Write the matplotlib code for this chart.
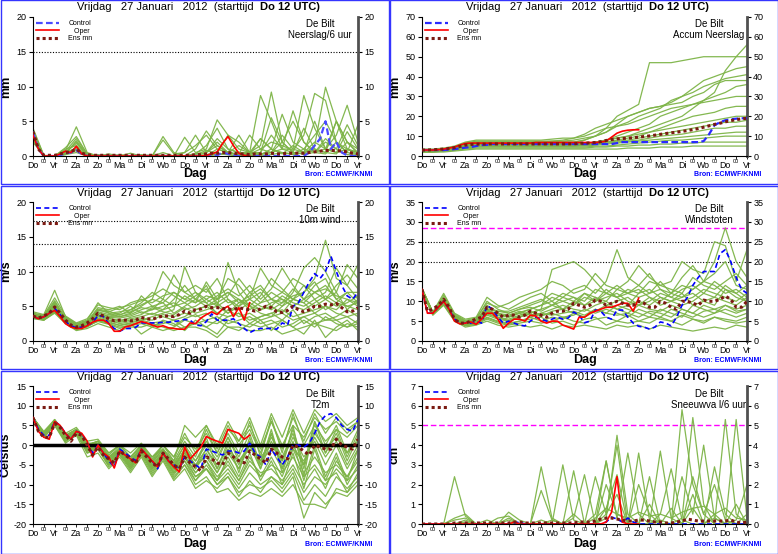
import numpy as np
import matplotlib
matplotlib.use('Agg')
import matplotlib.pyplot as plt
from matplotlib.lines import Line2D
from matplotlib.patches import Rectangle

plt.rcParams['font.family'] = ['Liberation Sans', 'DejaVu Sans']

dagen = ['Do', 'Vr', 'Za', 'Zo', 'Ma', 'Di', 'Wo', 'Do', 'Vr', 'Za', 'Zo', 'Ma', 'Di', 'Wo', 'Do', 'Vr']
titel = 'Vrijdag   27 Januari   2012  (starttijd  '
titel_vet = 'Do 12 UTC)'
bron = 'Bron: ECMWF/KNMI'

# ---------------- neerslag per 6 uur (mm) ----------------
# leden: elke 12 uur (31 punten), control/gem: elke 6 uur (61), oper tot dag 10 (41)
neerslag_leden = [
    [4.0, 0.1, 0, 0.8, 4.2, 0.5, 0, 0.1, 0, 0, 0, 0, 0, 0, 0, 0.3, 0.5, 2.5, 1.0, 0.5, 0.3, 1.0, 2.0, 1.5, 0.8, 3.0, 9.0, 8.0, 2.0, 1.0, 0.5],
    [2.0, 0, 0, 1.2, 2.8, 0.3, 0, 0, 0.2, 0, 0, 0, 2.8, 0.5, 0, 1.0, 3.6, 1.5, 0.5, 0.2, 0.5, 8.7, 5.0, 1.0, 0.5, 0.3, 1.5, 9.9, 5.0, 2.0, 1.0],
    [3.0, 0, 0, 0.5, 2.0, 0.2, 0, 0, 0, 0.4, 0, 0, 0.5, 0, 2.7, 0.5, 1.0, 5.2, 3.0, 1.0, 0.5, 2.5, 1.0, 6.0, 2.0, 1.0, 0.5, 2.0, 1.0, 4.5, 1.5],
    [2.5, 0, 0, 1.0, 1.5, 0.2, 0.2, 0, 0, 0, 0, 0, 2.3, 0.3, 0.5, 3.0, 0.5, 1.5, 0.5, 3.0, 0.5, 1.5, 9.2, 2.0, 0.5, 4.0, 1.0, 0.5, 5.0, 2.0, 0.3],
    [3.5, 0, 0, 0.6, 1.0, 0, 0, 0.3, 0, 0, 0, 0, 0, 0, 0.5, 1.5, 3.0, 1.0, 0.5, 0.3, 3.0, 1.0, 0.5, 2.0, 5.0, 2.0, 0.5, 0.3, 2.0, 0.5, 4.5],
    [3.0, 0, 0, 0.3, 2.2, 0.1, 0, 0, 0, 0, 0.2, 0, 0, 0, 0, 0.3, 1.5, 4.0, 1.0, 0.5, 0.5, 0.5, 3.0, 1.0, 1.0, 8.7, 4.0, 1.0, 0.5, 3.5, 1.0],
    [2.8, 0, 0, 0.2, 0.8, 0, 0, 0, 0, 0, 0, 0, 0, 0, 0, 0, 0.5, 2.0, 0.5, 0.2, 0.2, 2.5, 1.0, 0.5, 0.3, 1.0, 3.0, 5.0, 2.0, 0.5, 0.2],
    [3.2, 0, 0, 0.4, 1.2, 0.1, 0, 0, 0, 0, 0, 0, 0, 0, 0, 0, 0.2, 0.5, 3.0, 2.0, 0.5, 0.2, 1.0, 0.3, 1.5, 0.5, 2.0, 1.0, 5.0, 1.0, 0.5],
    [2.5, 0, 0, 0.5, 1.8, 0.2, 0, 0, 0, 0, 0, 0, 0, 0, 0, 0, 0, 1.0, 0.5, 0.2, 0.2, 0.5, 5.5, 2.0, 0.5, 0.3, 0.5, 2.5, 1.0, 0.2, 0.1],
    [3.8, 0, 0, 0.2, 0.5, 0, 0, 0, 0, 0, 0, 0, 0, 0, 0, 0.2, 0.8, 0.3, 0.2, 0, 0, 0.3, 0.5, 3.0, 1.0, 0.5, 1.0, 0.5, 0.3, 2.0, 0.5],
    [2.2, 0, 0, 0.3, 1.0, 0.1, 0, 0, 0, 0, 0, 0, 0, 0, 0, 0, 0, 0.3, 0.2, 0, 0, 0, 0.2, 0.5, 0.2, 0.5, 5.0, 1.0, 0.5, 1.0, 0.2],
    [3.3, 0, 0, 0.7, 2.5, 0.3, 0, 0, 0, 0, 0, 0.2, 0.1, 0, 0, 0, 0, 0.2, 0.5, 1.5, 0.5, 0.2, 0.5, 1.0, 6.5, 2.0, 0.5, 1.0, 3.0, 7.3, 2.0],
]
neerslag_ctrl = [3.5, 1.0, 0, 0, 0, 0.1, 0.4, 0.5, 0.8, 0.3, 0] + [0] * 23 + [0.1, 0.5, 0.3, 0.1] + [0] * 13 + \
    [0.5, 1.5, 2.5, 5.0, 1.0, 2.0, 0.5, 0.1, 0, 0]
neerslag_oper = [3.0, 1.0, 0, 0, 0, 0.3, 0.7, 0.5, 1.4, 0.3, 0] + [0] * 21 + [0.1, 0.3, 0.6, 1.8, 2.8, 1.5, 0.4, 0.1, 0]
neerslag_gem = [3.5, 1.0, 0.1, 0.1, 0.1, 0.3, 0.5, 0.6, 1.0, 0.4, 0.2] + [0.1] * 19 + \
    [0.2, 0.2, 0.3, 0.4, 0.4, 0.5, 0.5, 0.4, 0.3, 0.3, 0.2, 0.3, 0.3, 0.3, 0.4, 0.3, 0.3, 0.4, 0.4, 0.4, 0.4,
     0.5, 0.6, 0.7, 0.8, 0.8, 0.8, 0.7, 0.6, 0.4, 0.3]

# ---------------- geaccumuleerde neerslag (mm) ----------------
accum_leden = [
    [3, 3, 3.5, 4, 6, 7, 7, 7, 7, 7, 7, 7, 7, 7, 7, 8, 10, 14, 20, 23, 26, 47, 47, 47, 48, 49, 50, 50, 50, 50, 50],
    [2.5, 3, 3, 3.5, 5, 6, 6, 6, 6, 6, 6, 6, 6, 6, 6, 6, 7, 8, 9, 10, 12, 14, 16, 18, 20, 24, 28, 32, 43, 50, 56],
    [3, 3, 3.5, 4, 5.5, 6.5, 6.5, 6.5, 6.5, 6.5, 6.5, 6.5, 7, 7, 7, 8, 10, 12, 15, 17, 20, 22, 24, 28, 30, 34, 38, 40, 42, 44, 45],
    [3, 3, 3.5, 4.5, 6.5, 7.5, 7.5, 7.5, 7.5, 7.5, 7.5, 7.5, 7.5, 7.5, 8, 9, 10, 12, 16, 20, 22, 24, 25, 26, 27, 30, 32, 36, 38, 38, 38],
    [2.5, 2.5, 3, 3.5, 5, 6, 6, 6, 6, 6, 6, 6, 6, 6, 6, 6, 7, 8, 10, 12, 14, 16, 20, 22, 24, 26, 28, 30, 32, 35, 36],
    [3.5, 3.5, 4, 5, 7, 8, 8, 8, 8, 8, 8, 8, 8.5, 9, 9, 10, 12, 14, 15, 16, 18, 20, 22, 24, 25, 26, 27, 28, 29, 30, 30],
    [3, 3, 3.5, 4, 5, 6, 6, 6, 6, 6, 6, 6, 6, 6, 6, 6.5, 7, 8, 9, 10, 11, 12, 14, 16, 18, 20, 21, 22, 24, 25, 25],
    [2, 2, 2.5, 3, 4, 5, 5, 5, 5, 5, 5, 5, 5, 5, 5, 5.5, 6, 7, 8, 9, 10, 12, 13, 14, 15, 16, 17, 18, 19, 20, 20],
    [3, 3, 3.5, 4, 5.5, 6, 6, 6, 6, 6, 6, 6, 6, 6, 6, 6, 6.5, 7, 7.5, 8, 9, 10, 11, 12, 13, 14, 15, 16, 17, 17, 18],
    [3, 3, 3.5, 4, 5, 5.5, 5.5, 5.5, 5.5, 5.5, 5.5, 5.5, 5.5, 5.5, 5.5, 5.5, 6, 6.5, 7, 7.5, 8, 9, 10, 10.5, 11, 12, 13, 14, 14, 15, 15],
    [2.5, 2.5, 3, 3.5, 4.5, 5, 5, 5, 5, 5, 5, 5, 5, 5, 5, 5, 5.5, 6, 6.5, 7, 7.5, 8, 8.5, 9, 9.5, 10, 10.5, 11, 11.5, 12, 12],
    [2, 2, 2.5, 3, 4, 4.5, 4.5, 4.5, 4.5, 4.5, 4.5, 4.5, 4.5, 4.5, 4.5, 4.5, 5, 5, 5.5, 6, 6.5, 7, 7.5, 8, 8, 8.5, 9, 9.5, 10, 10, 10],
    [2.5, 2.5, 3, 3, 3.5, 4, 4, 4, 4, 4, 4, 4, 4, 4, 4, 4, 4.5, 4.5, 5, 5, 5.5, 5.5, 6, 6, 6.5, 6.5, 7, 7, 7, 7, 7],
    [2, 2, 2, 2.5, 3, 3.5, 3.5, 3.5, 3.5, 3.5, 3.5, 3.5, 3.5, 3.5, 3.5, 3.5, 3.5, 3.5, 3.5, 4, 4, 4, 4.5, 4.5, 4.5, 5, 5, 5, 5, 5, 5],
    [3, 3, 3.5, 4, 6, 7, 7, 7, 7, 7, 7, 7, 7.5, 8, 9, 11, 14, 16, 18, 20, 22, 24, 25, 27, 30, 32, 35, 37, 39, 40, 41],
]
accum_ctrl = [3, 3, 3, 3, 3, 3.2, 3.5, 3.8, 4.2, 4.5, 5, 5.5, 5.6] + [6] * 23 + [6.5] + [7] * 15 + \
    [7.5, 11, 15.5, 17, 18, 18.5, 18.8, 19, 19]
accum_oper = [3, 3, 3, 3.2, 3.5, 4, 4.5, 5.5, 6.3, 6.5] + [6.5] * 11 + [6.8] * 12 + [7.0, 7.5, 9.5, 11.5, 12.5, 13, 13.2, 13.2]
accum_gem = [3, 3, 3.2, 3.3, 3.5, 3.8, 4.2, 4.8, 5.5, 5.8, 6, 6, 6] + [6.1] * 16 + \
    [6.4, 6.5, 6.6, 6.8, 7.2, 7.8, 8.3, 8.6, 8.8, 9.0, 9.2, 9.5, 9.8, 10.1, 10.5, 10.9, 11.3, 11.7, 12.0,
     12.4, 12.8, 13.3, 13.8, 14.5, 15.2, 15.9, 16.5, 17.2, 17.8, 18.3, 18.7, 19]

# ---------------- 10 m wind (m/s) ----------------
wind_leden = [
    [3.8, 3.5, 5.0, 3.0, 2.0, 2.5, 4.0, 3.5, 3.5, 4.0, 5.0, 6.0, 10.0, 8.0, 7.0, 6.0, 5.5, 4.0, 5.0, 6.0, 4.5, 5.5, 7.0, 6.0, 5.0, 6.0, 8.0, 9.0, 6.0, 5.0, 4.5],
    [3.5, 3.0, 4.5, 2.8, 1.8, 2.2, 3.5, 3.0, 2.5, 2.8, 3.0, 3.5, 4.0, 4.5, 10.7, 7.0, 6.0, 5.0, 11.3, 7.0, 5.0, 4.0, 3.5, 5.0, 6.0, 5.5, 4.0, 5.0, 4.5, 6.0, 5.0],
    [4.2, 3.8, 7.3, 3.5, 2.5, 3.0, 5.5, 4.0, 3.5, 3.8, 4.5, 5.0, 5.5, 4.0, 5.0, 6.0, 8.0, 5.0, 4.0, 5.0, 6.0, 7.0, 5.0, 4.0, 6.0, 7.0, 9.0, 14.5, 9.0, 8.0, 11.0],
    [3.2, 3.0, 4.0, 2.5, 1.5, 1.8, 2.5, 2.0, 1.5, 2.0, 2.0, 2.5, 2.0, 1.5, 2.0, 2.0, 1.5, 0.5, 2.0, 2.0, 1.5, 1.5, 2.0, 1.0, 1.5, 2.0, 2.5, 2.0, 1.5, 2.5, 2.0],
    [3.6, 3.3, 5.5, 3.2, 2.2, 2.6, 4.5, 4.0, 4.2, 4.5, 5.5, 7.0, 6.0, 9.5, 7.0, 8.0, 7.0, 9.0, 6.0, 5.0, 7.0, 8.0, 6.0, 5.0, 7.0, 10.5, 12.0, 10.0, 7.0, 11.0, 9.0],
    [3.4, 3.2, 4.8, 3.0, 2.0, 2.4, 3.8, 3.2, 3.0, 3.2, 3.5, 4.0, 3.5, 3.0, 3.5, 4.5, 5.0, 4.0, 3.5, 4.0, 3.0, 3.5, 4.0, 4.5, 3.5, 4.0, 4.5, 5.0, 4.0, 3.5, 4.0],
    [3.9, 3.6, 5.8, 3.3, 2.3, 2.8, 4.8, 4.5, 5.0, 4.0, 6.5, 5.0, 4.5, 6.0, 8.0, 6.0, 5.0, 6.0, 9.0, 8.0, 6.0, 10.5, 8.0, 7.0, 9.0, 8.0, 6.0, 7.0, 10.5, 8.0, 6.0],
    [3.3, 3.1, 4.2, 2.6, 1.7, 2.0, 3.0, 2.5, 2.0, 2.2, 2.5, 2.0, 1.5, 2.0, 3.0, 2.5, 3.0, 3.5, 2.5, 3.0, 3.5, 2.5, 3.0, 2.0, 2.5, 3.5, 2.5, 3.0, 3.0, 2.0, 2.5],
    [3.7, 3.4, 5.2, 3.1, 2.1, 2.7, 4.2, 3.8, 4.0, 5.0, 4.0, 4.5, 5.0, 5.5, 4.5, 5.0, 6.0, 7.0, 5.5, 6.0, 5.0, 4.5, 5.5, 6.0, 5.0, 4.5, 5.5, 6.5, 5.5, 5.0, 5.5],
    [3.5, 3.3, 4.6, 2.9, 1.9, 2.3, 3.2, 2.8, 2.2, 2.5, 1.0, 2.0, 3.0, 2.5, 1.5, 3.0, 2.0, 1.0, 3.0, 2.5, 2.0, 3.0, 1.5, 3.0, 2.0, 1.0, 3.0, 0.5, 2.0, 3.0, 1.5],
    [4.0, 3.7, 6.2, 3.6, 2.6, 3.2, 5.2, 4.8, 4.5, 5.5, 6.0, 5.5, 6.5, 7.0, 6.0, 7.0, 5.5, 6.5, 7.5, 6.5, 8.0, 6.0, 7.5, 10.5, 8.0, 6.0, 7.0, 8.0, 6.0, 7.0, 7.0],
    [3.6, 3.3, 4.4, 2.7, 1.8, 2.1, 3.3, 2.9, 2.7, 3.0, 3.2, 3.0, 3.8, 3.5, 4.0, 3.5, 4.0, 3.0, 4.5, 3.5, 4.0, 3.0, 3.5, 4.0, 3.0, 3.5, 4.0, 3.0, 3.5, 4.5, 3.5],
    [3.8, 3.5, 5.0, 3.4, 2.4, 2.9, 4.4, 4.2, 4.8, 5.2, 5.8, 6.5, 7.5, 6.5, 5.5, 6.5, 7.5, 5.5, 6.5, 9.0, 7.0, 5.5, 6.0, 5.5, 6.5, 7.0, 8.5, 6.0, 5.0, 5.5, 6.5],
    [3.4, 3.1, 4.3, 2.8, 1.6, 2.2, 2.8, 2.4, 1.8, 2.4, 2.8, 2.2, 2.5, 3.0, 2.0, 2.5, 2.0, 3.0, 2.0, 1.5, 2.5, 2.0, 2.5, 3.0, 2.0, 3.0, 2.0, 3.5, 2.5, 2.0, 3.0],
    [3.7, 3.4, 5.3, 3.2, 2.3, 2.6, 4.0, 3.6, 3.8, 4.2, 4.8, 4.5, 6.0, 5.0, 6.5, 5.5, 6.5, 6.0, 7.0, 5.5, 6.5, 7.5, 6.0, 7.0, 6.0, 5.5, 7.0, 7.5, 6.5, 6.0, 5.5],
    [3.5, 3.3, 4.7, 3.0, 2.0, 2.5, 3.6, 3.4, 3.3, 3.6, 4.2, 3.8, 4.5, 5.0, 5.5, 4.5, 5.0, 5.5, 4.0, 5.5, 6.0, 5.0, 4.5, 5.5, 7.5, 6.0, 5.0, 6.0, 7.0, 4.5, 6.0],
    [3.9, 3.6, 5.6, 3.3, 2.2, 2.7, 4.6, 4.3, 3.7, 4.5, 5.2, 6.0, 5.5, 7.0, 6.0, 5.5, 8.5, 6.0, 7.0, 6.0, 5.0, 6.5, 9.0, 7.5, 6.0, 8.0, 7.0, 6.0, 8.0, 9.5, 7.5],
    [3.3, 3.0, 4.1, 2.6, 1.7, 2.1, 2.9, 2.6, 2.3, 2.6, 3.0, 2.6, 2.8, 2.2, 3.2, 3.8, 2.8, 2.5, 3.5, 4.0, 2.5, 3.5, 4.0, 3.0, 4.5, 2.5, 3.5, 4.0, 3.0, 3.5, 2.5],
    [3.6, 3.4, 5.1, 3.1, 2.1, 2.5, 3.7, 3.3, 2.8, 3.4, 3.8, 4.8, 4.2, 3.8, 4.8, 4.0, 4.5, 5.0, 6.0, 4.5, 5.5, 4.5, 5.0, 6.5, 5.5, 5.0, 6.0, 4.5, 5.5, 7.0, 5.5],
]
wind_ctrl = [3.6, 3.2, 3.5, 4.0, 4.7, 3.8, 2.8, 2.2, 1.9, 2.0, 2.3, 2.6, 3.7, 3.5, 2.5, 1.8, 1.4, 1.8, 1.8, 2.0, 2.6,
             2.6, 2.6, 2.6, 2.7, 2.7, 2.8, 2.9, 3.1, 3.0, 2.3, 2.2, 2.8, 3.9, 3.0, 3.0, 3.0, 3.2, 2.5, 1.8, 1.2,
             1.6, 1.8, 1.8, 1.8, 1.7, 2.6, 2.3, 5.0, 5.5, 7.0, 8.5, 9.7, 9.0, 10.0, 12.2, 10.0, 8.0, 6.5, 6.0, 7.0]
wind_oper = [3.6, 3.2, 3.5, 4.0, 4.4, 3.5, 2.5, 2.0, 1.8, 1.8, 2.2, 2.7, 3.0, 3.0, 2.5, 1.4, 1.4, 2.0, 2.2, 2.5, 2.8,
             2.6, 2.3, 2.0, 2.2, 1.9, 1.8, 1.7, 1.7, 2.6, 2.5, 3.3, 3.8, 4.2, 3.8, 4.6, 5.0, 3.5, 4.8, 3.0, 5.5]
wind_gem = [3.6, 3.3, 3.6, 4.0, 4.9, 4.0, 3.0, 2.3, 2.0, 2.2, 2.6, 3.2, 4.0, 3.6, 3.2, 2.9, 3.0, 3.0, 2.9, 3.0, 3.4,
            3.2, 3.1, 3.4, 3.6, 3.6, 3.5, 3.8, 4.3, 4.0, 4.5, 4.6, 5.0, 4.8, 4.8, 4.7, 4.6, 4.5, 4.8, 4.6, 4.5,
            4.3, 4.6, 5.0, 4.8, 4.2, 4.1, 4.4, 5.0, 4.5, 4.2, 4.5, 5.0, 5.0, 5.3, 5.2, 5.4, 4.8, 4.2, 4.3, 4.8]

# ---------------- windstoten (m/s) ----------------
stoot_leden = [
    [13, 7, 10, 6, 4.5, 5, 8, 6, 5, 6, 7, 8, 18, 19, 20, 18, 15, 12, 14, 12, 13, 11, 10, 12, 14, 13, 15, 20, 28.5, 20, 16],
    [12.8, 6.8, 9.5, 5.5, 4, 4.5, 6, 5, 4.5, 5, 6, 5, 6, 5.5, 7, 6, 8, 7, 9, 8, 7, 6, 8, 7, 6, 9, 8, 7, 9, 8, 9],
    [13.2, 7.2, 11, 6.5, 5, 5.5, 10, 8, 7, 8, 9, 10, 12, 11, 13, 14, 12, 15, 23, 16, 14, 17, 13, 12, 16, 19, 15, 17, 20, 14, 13],
    [13, 7, 10.5, 6, 4.5, 5, 9, 7, 6, 7, 8, 9, 10, 8, 9, 12, 10, 11, 12, 10, 9, 11, 9, 10, 11, 12, 10, 9, 13, 11, 10],
    [12.5, 6.5, 9, 5, 3.5, 4, 5, 4, 3.5, 4, 3.5, 4, 3, 4, 3.5, 4, 3.5, 3, 4, 3.5, 4, 3, 4, 3.5, 3, 2.5, 3, 3.5, 3, 4, 3.5],
    [13.3, 7.3, 12, 7, 5.5, 6, 11, 9, 8, 9.5, 11, 12, 10, 12, 11, 10, 13, 12, 11, 13, 12, 15, 14, 13, 12, 16, 14, 13, 15, 17, 14],
    [12.7, 6.7, 9.2, 5.2, 3.8, 4.2, 5.5, 4.5, 4, 4.5, 5, 4.5, 5, 6, 5, 4.5, 5.5, 6, 5, 4.5, 5, 6, 5.5, 5, 6.5, 5.5, 5, 6, 5, 4.5, 5],
    [13.1, 7.1, 10.8, 6.3, 4.8, 5.3, 7.5, 7, 6.5, 7.5, 6.5, 7, 8, 9, 8, 7.5, 9, 10, 8, 9, 10, 9, 11, 10, 9, 10, 12, 11, 10, 9, 11],
    [12.9, 6.9, 9.8, 5.8, 4.2, 4.8, 7, 6, 5.5, 6.5, 7.5, 6.5, 7, 6, 6.5, 8, 7, 8, 7, 6, 8, 7, 6, 8, 7, 6, 7.5, 8, 7, 6, 7],
    [13, 7, 11.5, 6.8, 5.2, 5.8, 9.5, 8.5, 9.5, 11, 12, 13, 15, 14, 12, 13, 17, 14, 13, 15, 19, 16, 14, 15, 20, 18, 17, 25, 24, 15, 23],
    [12.6, 6.6, 9.3, 5.4, 4, 4.3, 5.8, 4.8, 4.2, 5, 5.5, 6, 4.5, 5, 4, 5.5, 6, 4, 5, 6.5, 5, 4.5, 6, 5, 4, 5.5, 4.5, 6, 5.5, 5, 6],
    [13.2, 7.2, 10.2, 6.2, 4.6, 5.2, 8, 7.5, 7, 8, 8.5, 7.5, 9, 8, 10, 9, 11, 9, 10, 11, 9, 10, 12, 11, 10, 11, 13, 12, 11, 10, 12],
    [13, 7, 10, 6, 4.4, 4.9, 7.2, 6.5, 6, 7, 6, 7, 6.5, 7, 7.5, 6.5, 8, 7, 6.5, 7, 6, 7.5, 7, 6, 8, 7, 6, 7, 8, 7, 8],
    [12.8, 6.8, 9.6, 5.6, 4.1, 4.6, 6.5, 5.5, 5, 6, 7, 8, 9, 10, 9, 11, 10, 12, 11, 9, 12, 13, 11, 10, 12, 9, 10, 11, 14, 12, 10],
    [13, 7, 10.3, 6.1, 4.7, 5.1, 7.8, 6.8, 6.2, 7.2, 8, 9, 11, 10, 11, 9, 10, 13, 11, 12, 14, 12, 13, 11, 13, 14, 12, 15, 13, 12, 14],
    [12.9, 6.9, 9.7, 5.7, 4.3, 4.7, 6.8, 5.8, 5.2, 6.2, 6.8, 6.2, 7.5, 8, 7, 6, 7.5, 9, 8, 7, 9, 8, 7.5, 9, 8, 7, 9, 8, 9, 7.5, 8],
    [13.1, 7.1, 10.6, 6.4, 4.9, 5.4, 8.5, 7.5, 7.5, 8.5, 9.5, 10.5, 9, 11, 10, 12, 11, 10, 13, 12, 11, 12, 15, 12, 11, 13, 15, 14, 12, 13, 11],
]
stoot_ctrl = [13, 7, 7, 8.5, 10, 8, 5.5, 4.5, 4.5, 4.5, 5, 4.5, 9, 8, 6, 4.5, 5, 4.5, 4, 3.8, 5, 6, 5.5, 5, 5.5,
              6, 5.5, 5.8, 7.3, 6.5, 4.6, 5, 7.8, 7.5, 6, 5.5, 7.8, 7.8, 6, 4.5, 3.7, 3.5, 3, 3.5, 4.8, 4.5, 3.8,
              6, 9, 11, 14, 16, 17.5, 17.5, 17.5, 22, 23, 20, 16, 13, 12]
stoot_oper = [13, 7, 7, 8.5, 10, 8, 5, 4.3, 4.5, 4.8, 4.2, 5.5, 7, 7, 5.5, 3.2, 4.5, 5.5, 5.5, 5, 6.5, 6.3, 5, 4.5,
              5, 5, 4, 3.5, 3, 6, 6, 7, 7.5, 8, 8.5, 8.5, 9, 9.5, 9.5, 7.5, 10.8]
stoot_gem = [13, 7.5, 8, 9, 10.5, 8.5, 5.5, 4.5, 4.5, 5, 5.5, 6, 8.5, 8, 7, 6, 6.5, 6.5, 6, 6.5, 7.5, 7, 6.5, 6, 7,
             7.5, 7.5, 8, 9.5, 9, 8.5, 9, 10.3, 10, 9, 9.5, 10, 9.5, 9, 9, 10, 9.5, 8.5, 8.5, 10, 9.5, 8.5, 8, 10,
             10, 9.5, 9, 10.3, 10, 10, 10.5, 11.3, 10.5, 8.5, 8.5, 10]

# ---------------- temperatuur 2 m (Celsius) ----------------
temp_leden = [
    [7, 3, 6, 2, 4, 0, 1, -2, 0, -3, 0, -4, 0, -4, 5, 2, 5, 0, 6, 1, 7, 0, 8, 2, 9, 3, 9, 6, 8, 5, 7],
    [7, 2, 5.5, 1, 3, -1, 0, -4, -1, -5, -1, -6, -2, -6, -3, -8, -6, -10, -8, -12, -10, -11, -9, -12, -8, -18.5, -12, -15, -12, -13, -10],
    [7, 2.5, 6, 1.5, 3.5, -2, -1, -5, -2, -6, -2, -7, -3, -8, -5, -10, -8, -12, -11, -14, -12, -13, -11, -13, -10, -15, -15, -16, -11, -12, -9],
    [7, 3.5, 6.5, 3, 4.5, 1, 1.5, -2, 0, -2, 0.5, -3, 0, -3, 2, -1, 3, -2, 4, 1, 5, -1, 6, 0, 5, 2, 7, 4, 6, 3, 6],
    [7, 2, 5.5, 1, 3, -1.5, -0.5, -4.5, -2, -5, -1.5, -5.5, -2, -6, -2, -5, -1, -6, 0, -5, 1, -4, 2, -3, 3, -6, 4, -2, 3, -4, 2],
    [7, 3, 6, 2, 4, -0.5, 0, -3, -1, -4, -1, -5, -1.5, -5.5, -1, -4, 0, -4, 2, -3, 3, -5, 4, -6, 5, -8, 6, 0, 5, -2, 4],
    [7, 2.5, 5.5, 1.5, 3.5, -1, -1, -5, -2, -6, -2, -6, -2, -7, -4, -9, -5, -9, -3, -8, -2, -9, -4, -10, -2, -11, -1, -9, -3, -10, -5],
    [7, 3, 6, 2.5, 4, 0.5, 0.5, -3.5, -1, -4.5, -0.5, -4.5, -1, -5, 0, -6, 2, -6, 1, -7, 2, -6, 3, -7, 1, -9, 0, -8, -2, -9, -1],
    [7, 2, 5, 0.5, 2.5, -3, -2, -6, -3, -7, -3, -8, -4, -9, -6, -11, -9, -11, -8, -13, -9, -12, -8, -11, -7, -14, -10, -13, -8, -11, -8],
    [7, 3, 6, 2, 4, 0, 1, -3, -0.5, -3.5, 0, -3, -1, -4, 1, -3, 4, -2, 3, -2, 6, -3, 7, -2, 8, 0, 5, 1, 4, 2, 5],
    [7, 2.5, 5.5, 1.5, 3, -1.5, -0.5, -5, -2.5, -5.5, -2, -6.5, -3, -7, -3, -7, -4, -8, -5, -9, -4, -7, -6, -9, -5, -10, -6, -11, -4, -8, -3],
    [7, 3, 6, 2, 3.5, -0.5, 0, -4, -1.5, -5, -1, -5.5, -2, -6, -1, -5, -3, -7, -2, -6, 0, -6, 1, -5, -1, -4, 2, -3, 1, -5, 0],
    [7, 2, 5, 1, 3, -2, -1, -5.5, -2.5, -6.5, -2.5, -7.5, -3.5, -8.5, -5, -9, -6, -10, -7, -11, -7, -10, -8, -10, -6, -12, -8, -10, -6, -9, -6],
    [7, 3, 6.5, 2.5, 4, 0, 1, -2.5, 0, -3, 0, -3.5, 0, -3, 3, -2, 5, -1, 5, 0, 4, -2, 6, -1, 7, 1, 8, 3, 7, 4, 6],
    [7, 2.5, 5.5, 1, 3, -1, -0.5, -4, -1.5, -4.5, -1.5, -5, -2, -5, -2, -6, -1, -5, -1, -4, -1, -3, 0, -4, 2, -3, 1, -5, 0, -6, -1],
    [7, 3, 6, 2, 4, 0, 0.5, -3.5, -1, -4, -0.5, -4.5, -1, -5, -1.5, -6, -2, -7, -1, -6, 1, -5, 3, -4, 4, -5, 6, -2, 4, -3, 3],
    [7, 2.5, 5.5, 1, 3, -1.5, -1, -5, -2, -5.5, -2, -6, -2.5, -7.5, -4, -8, -6, -9, -6, -10, -5, -8, -5, -7, -3, -8, -5, -9, -7, -12, -7],
    [7, 3, 6, 2, 3.5, 0, 0.5, -3, -1, -4, -0.5, -4, -1, -4.5, 0, -4, 1, -3, 2, -4, 0, -4, -1, -6, 0, -5, 3, -1, 2, -2, 1],
    [7, 2.5, 5.5, 1.5, 3.5, -1, -0.5, -4.5, -1.5, -5.5, -1.5, -6, -2.5, -6.5, -2.5, -7, -4, -9, -4, -9, -3, -8, -3, -8, -1, -7, -3, -7, -5, -8, -4],
]
temp_ctrl = [7, 4, 2.5, 2.5, 6, 5, 3, 1.5, 3.5, 3, 0.5, -2, 0, -2, -4, -5.5, -1, -2, -3, -4, -1, -2.5, -4, -6, -2,
             -4, -5, -6, -3, -4, -5, -6, -1, -1.5, -2, -2.5, -1.5, -1.5, -2, -1.5, 0.5, -2, -3, -5, -1, -3, -5, -3,
             0, 0, -0.5, 0.5, 3, 6, 7.5, 8, 7, 5, 4, 3.5, 6.5]
temp_oper = [7, 3.5, 2, 1.5, 6, 5, 3, 1.5, 3.5, 3, 1, -3, 0, -2, -3, -5.8, -1.5, -2.5, -3.5, -4.5, -1, -2.5, -4, -5.5,
             -2, -4, -5.5, -6.8, -0.5, -3.5, -2, -0.5, 2.2, 1.5, 1, 0.5, 4, 3.5, 3, 1.5, 2.5]
temp_gem = [7, 3.5, 2, 2, 5.5, 4.5, 2.5, 1, 3, 2.5, 0, -2.5, -0.5, -2.5, -3.5, -4.5, -1.5, -2.5, -3.5, -4.5, -1.5,
            -3, -4.5, -5.5, -2, -3.5, -5, -6, -3, -4.5, -5.5, -6.5, -3, -3.5, -4.5, -5, -2, -3, -4, -4.5, -1.5,
            -2.5, -3.5, -4.5, -1, -2, -3, -3.5, 0, -0.5, -1.5, -2.5, 0, -0.5, -1, -1, 1.5, 0, -0.5, -1, 1.5]

# ---------------- sneeuwval per 6 uur (cm) ----------------
sneeuw_leden = [
    [0, 0, 0, 2.4, 0.4, 0, 0, 0, 0, 0, 0, 2.9, 0.3, 0, 0, 0, 0, 0.3, 4.5, 0.5, 0, 0, 0.2, 0, 5.8, 2.0, 0.5, 0, 0, 0, 0],
    [0, 0, 0, 0.3, 0.5, 0, 0, 0, 0.6, 0.2, 0, 1.7, 0.2, 0, 2.7, 0, 0, 3.2, 0.3, 0, 3.6, 0.2, 0, 0, 0.3, 5.4, 1.0, 0, 5.3, 0.5, 0],
    [0, 0, 0, 0.2, 0.3, 0, 0.2, 0, 0.3, 0, 0, 0, 0, 3.0, 0.2, 0, 0, 0.5, 4.0, 0, 0, 2.4, 0, 0, 2.4, 0.5, 4.0, 0.3, 0, 0.2, 2.0],
    [0, 0, 0, 0, 0.2, 0, 0, 0.3, 0.4, 0, 0, 0.2, 0, 0, 0.3, 2.5, 0, 0.8, 2.5, 0, 0, 0, 3.7, 0.3, 0, 0.8, 0, 2.9, 0.5, 0, 0],
    [0, 0, 0, 0, 0.1, 0, 0, 0, 0, 0, 0, 0, 0.2, 0, 0, 0, 0.5, 3.2, 0.3, 3.6, 0.5, 0, 0.5, 2.8, 0.2, 0, 0, 0.5, 0, 5.3, 0.3],
    [0, 0, 0, 0, 0, 0, 0, 0, 0.2, 0, 0, 0, 0, 0, 0.5, 0, 2.4, 0.5, 1.5, 0, 2.0, 0.5, 0, 0.8, 0, 2.4, 0.5, 2.0, 0.2, 0, 0.5],
    [0, 0, 0, 0, 0, 0, 0, 0, 0, 0, 0, 0, 0, 0, 0, 0, 0.3, 0.8, 0.5, 0.3, 0.6, 0.4, 0.5, 0.3, 0.6, 0.8, 0.9, 0.5, 0.8, 0.3, 0.2],
    [0, 0, 0, 0, 0, 0, 0, 0, 0, 0, 0, 0, 0, 0, 0, 0, 0, 2.0, 0.5, 0.2, 0, 1.0, 0, 0, 0, 1.5, 0, 0.3, 0, 1.0, 0],
]
sneeuw_ctrl = [0] * 17 + [0.05, 0.1] + [0] * 15 + [0.1, 0.35, 0.25, 0.1, 0.3, 0.1] + [0] * 21
sneeuw_oper = [0] * 17 + [0.1] + [0] * 16 + [0.1, 0.6, 2.4, 0.1, 0, 0, 0]
sneeuw_gem = [0] * 6 + [0.05] * 11 + [0.1, 0.1] + [0.05] * 10 + [0.1] * 3 + \
    [0.15, 0.25, 0.3, 0.3, 0.25, 0.2, 0.15, 0.15, 0.2, 0.2, 0.15, 0.1, 0.1, 0.05, 0.05, 0.1, 0.15, 0.25, 0.2] + \
    [0.15] * 6 + [0.2, 0.1, 0.05, 0.1]

groen = '#7db447'
blauw = '#0000ff'
rood = '#ff0000'
bruin = '#7a1a12'
magenta = '#ff00ff'

W, H = 778, 554
fig = plt.figure(figsize=(W / 100, H / 100), dpi=100)
fig.patch.set_facecolor('white')

t6 = np.arange(61) * 0.25
t12 = np.arange(31) * 0.5


def paneel(ox, oy, top, bot, leden, ctrl, oper, gem, ylim, ystap, ylabel, naam,
           stippel=(), streep=(), nul=False, ctrl_stijl=None, oper_stijl=None):
    hoog = bot - top
    ax = fig.add_axes([(ox + 33) / W, 1 - (oy + bot) / H, 325 / W, hoog / H])
    ax.set_facecolor('white')

    for lid in leden:
        assert len(lid) == 31, (naam, len(lid))
        ax.plot(t12, lid, color=groen, lw=0.9, alpha=0.95, zorder=2)
    assert len(ctrl) == 61 and len(gem) == 61 and len(oper) == 41, (naam, len(ctrl), len(gem), len(oper))

    for y in stippel:
        ax.axhline(y, color='k', ls=(0, (1, 1.5)), lw=0.8, zorder=1)
    for y in streep:
        ax.axhline(y, color=magenta, ls=(0, (4, 2)), lw=1.0, zorder=1)
    if nul:
        ax.axhline(0, color='k', lw=2.5, zorder=3)

    cs = ctrl_stijl or dict(color=blauw, ls=(0, (3, 2)), lw=1.2)
    os_ = oper_stijl or dict(color=rood, lw=1.2)
    ax.plot(t6, ctrl, zorder=5, **cs)
    ax.plot(t6[:len(oper)], oper, zorder=6, **os_)
    ax.plot(t6, gem, color=bruin, ls=(0, (1, 1)), lw=2.2, zorder=7)

    ax.set_xlim(0, 15)
    ax.set_ylim(*ylim)
    yt = np.arange(ylim[0], ylim[1] + 0.01, ystap)
    ax.set_yticks(yt)
    ax.set_yticklabels(['%g' % v for v in yt])
    ax.tick_params(axis='y', left=True, right=True, labelleft=True, labelright=True,
                   direction='out', length=3, width=0.8, labelsize=6.5, pad=1.5)

    ax.set_xticks(np.arange(16), dagen)
    ax.set_xticks(np.arange(15) + 0.5, ['00'] * 15, minor=True)
    ax.tick_params(axis='x', which='major', length=2, width=0.6, labelsize=6.3, pad=1.5)
    ax.tick_params(axis='x', which='minor', length=2, width=0.6, labelsize=4.0, pad=0.5)

    ax.spines['top'].set_visible(False)
    ax.spines['left'].set_linewidth(0.8)
    ax.spines['bottom'].set_linewidth(0.8)
    ax.spines['right'].set_linewidth(2.0)
    ax.spines['right'].set_color('#505050')

    ax.set_ylabel(ylabel, fontsize=9, fontweight='bold', labelpad=0)
    ax.yaxis.set_label_coords((12 - 33) / 325, 0.5)
    ax.text(0.5, -(174.5 - bot) / hoog, 'Dag', transform=ax.transAxes,
            ha='center', va='center', fontsize=9, fontweight='bold')
    ax.text((372 - 33) / 325, -(175 - bot) / hoog, bron, transform=ax.transAxes,
            ha='right', va='center', fontsize=5.0, fontweight='bold', color=blauw)
    ax.text((320 - 33) / 325, 1 - (19 - top) / hoog, 'De Bilt\n' + naam, transform=ax.transAxes,
            ha='center', va='top', fontsize=7, linespacing=1.15, zorder=10)

    handles = [Line2D([], [], **cs), Line2D([], [], **os_),
               Line2D([], [], color=bruin, ls=(0, (1, 1)), lw=2.2)]
    ax.legend(handles, ['Control', '   Oper', 'Ens mn'], loc='upper left', bbox_to_anchor=(0.0, 1.0),
              frameon=False, fontsize=5, handlelength=3.2, handletextpad=1.4, labelspacing=0.05,
              borderaxespad=0.2, borderpad=0.3)

    t1 = fig.text((ox + 77) / W, 1 - (oy + 7.5) / H, titel, fontsize=8, va='center', ha='left')
    ax.annotate(titel_vet, xy=(1, 0.5), xycoords=t1, va='center', ha='left', fontsize=8, fontweight='bold',
                annotation_clip=False)

    fig.add_artist(Rectangle(((ox + 0.5) / W, 1 - (oy + 183.5) / H), 388 / W, 183 / H,
                             transform=fig.transFigure, fill=False, edgecolor='#3535ff', lw=1.0))
    return ax


paneel(0, 0, 17, 156, neerslag_leden, neerslag_ctrl, neerslag_oper, neerslag_gem, (0, 20), 5, 'mm',
       'Neerslag/6 uur', stippel=[15], ctrl_stijl=dict(color='#4a4aff', ls=(0, (3, 1.5)), lw=1.6))
paneel(389, 0, 17, 156, accum_leden, accum_ctrl, accum_oper, accum_gem, (0, 70), 10, 'mm',
       'Accum Neerslag', ctrl_stijl=dict(color='#2a2aff', ls=(0, (3, 1.5)), lw=1.6))
paneel(0, 185, 17, 156, wind_leden, wind_ctrl, wind_oper, wind_gem, (0, 20), 5, 'm/s',
       '10m wind', stippel=[10.8, 13.9, 17.2])
paneel(389, 185, 17, 156, stoot_leden, stoot_ctrl, stoot_oper, stoot_gem, (0, 35), 5, 'm/s',
       'Windstoten', stippel=[20, 25], streep=[28.5])
paneel(0, 370, 16, 154, temp_leden, temp_ctrl, temp_oper, temp_gem, (-20, 15), 5, 'Celsius',
       'T2m', nul=True)
paneel(389, 370, 16, 154, sneeuw_leden, sneeuw_ctrl, sneeuw_oper, sneeuw_gem, (0, 7), 1, 'cm',
       'Sneeuwva l/6 uur', streep=[5])

fig.savefig('out.png', dpi=100, facecolor='white')
